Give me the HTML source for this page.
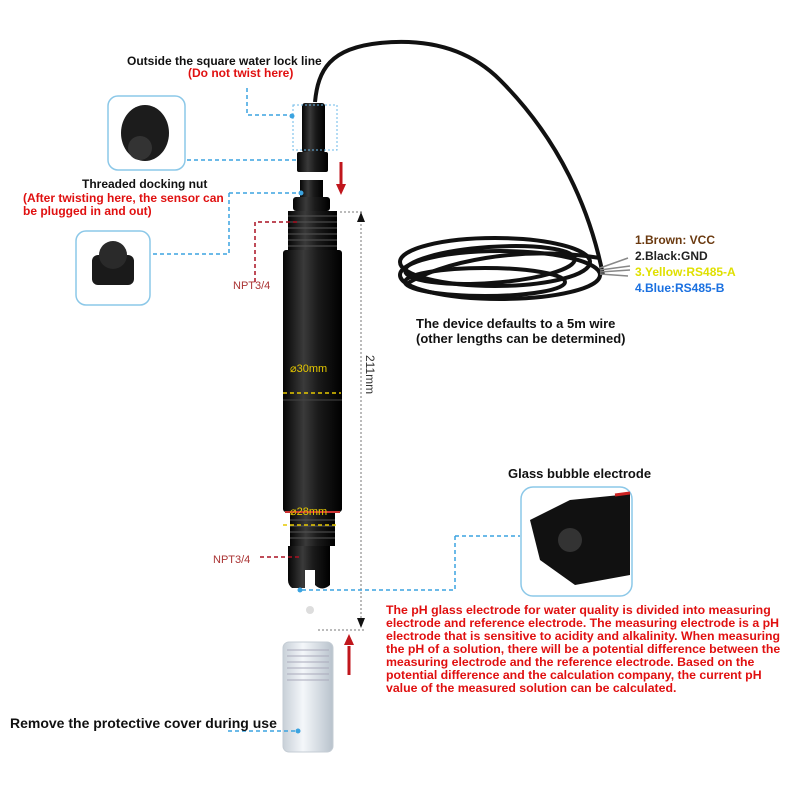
<!DOCTYPE html>
<html><head><meta charset="utf-8"><style>
body{margin:0;background:#fff}
svg{display:block;font-family:"Liberation Sans",sans-serif}
.b{font-weight:bold}
</style></head><body>
<svg width="800" height="800" viewBox="0 0 800 800">
<defs>
<linearGradient id="bd" x1="0" x2="1"><stop offset="0" stop-color="#050505"/><stop offset=".35" stop-color="#3a3a3a"/><stop offset=".6" stop-color="#1a1a1a"/><stop offset="1" stop-color="#000"/></linearGradient>
<linearGradient id="cv" x1="0" x2="1"><stop offset="0" stop-color="#c8d0d8"/><stop offset=".4" stop-color="#f4f7fa"/><stop offset="1" stop-color="#b8c2cc"/></linearGradient>
</defs>
<!-- cable -->
<g fill="none" stroke="#111" stroke-width="4">
<path d="M315 102 C318 70 330 48 380 43 C430 38 470 50 500 80 C560 140 590 210 603 275"/>
<ellipse cx="495" cy="262" rx="95" ry="24"/>
<ellipse cx="500" cy="275" rx="100" ry="24"/>
<ellipse cx="490" cy="265" rx="85" ry="18" transform="rotate(-4 490 265)"/>
<ellipse cx="485" cy="282" rx="80" ry="14"/>
<path d="M405 285 C440 262 520 245 600 258"/>
</g>
<path d="M600 268 L628 258 M600 270 L630 266 M600 272 L630 270 M600 274 L628 276" stroke="#888" stroke-width="1.5"/>
<!-- top connector -->
<rect x="302" y="103" width="23" height="50" rx="3" fill="url(#bd)"/>
<rect x="297" y="152" width="31" height="20" rx="2" fill="url(#bd)"/>
<rect x="293" y="105" width="44" height="45" fill="none" stroke="#6bb8e8" stroke-dasharray="2 2"/>
<!-- red arrows -->
<path d="M341 162 V186" stroke="#c0161c" stroke-width="3"/><path d="M336 184 L341 195 L346 184Z" fill="#c0161c"/>
<path d="M349 646 V675" stroke="#c0161c" stroke-width="3"/><path d="M344 645 L349 634 L354 645Z" fill="#c0161c"/>
<!-- sensor -->
<rect x="300" y="180" width="23" height="17" fill="url(#bd)"/>
<rect x="293" y="197" width="37" height="14" rx="3" fill="url(#bd)"/>
<rect x="288" y="211" width="49" height="40" fill="url(#bd)"/>
<g stroke="#555" stroke-width="1"><path d="M288 216H337M288 222H337M288 228H337M288 234H337M288 240H337M288 246H337"/></g>
<rect x="283" y="250" width="59" height="262" rx="3" fill="url(#bd)"/>
<path d="M283 400 H342" stroke="#444"/>
<path d="M285 512 H340" stroke="#c33" stroke-width="2"/>
<rect x="290" y="513" width="45" height="33" fill="url(#bd)"/>
<g stroke="#555"><path d="M290 520H335M290 526H335M290 532H335M290 538H335"/></g>
<path d="M288 546 H330 V585 Q322 592 315 585 V570 H305 V588 H292 Q288 585 288 580Z" fill="url(#bd)"/>
<circle cx="310" cy="610" r="4" fill="#ddd"/>
<!-- diameter marks -->
<text x="290" y="372" fill="#e6c800" font-size="11">⌀30mm</text>
<path d="M283 393 H341" stroke="#e6c800" stroke-dasharray="4 3" stroke-width="1.5"/>
<text x="290" y="515" fill="#e6c800" font-size="11">⌀28mm</text>
<path d="M283 525 H337" stroke="#e6c800" stroke-dasharray="4 3" stroke-width="1.5"/>
<!-- dimension -->
<path d="M340 212 H362 M361 212 V628 M318 630 H365" stroke="#777" stroke-dasharray="2 2" fill="none"/>
<path d="M357 222 L361 212 L365 222Z M357 618 L361 628 L365 618Z" fill="#111"/>
<text transform="translate(366 355) rotate(90)" font-size="12" fill="#333">211mm</text>
<!-- cover -->
<rect x="283" y="642" width="50" height="110" rx="6" fill="url(#cv)" stroke="#c4ccd4"/>
<g stroke="#aab" stroke-width="1"><path d="M287 650H329M287 656H329M287 662H329M287 668H329M287 674H329M287 680H329"/></g>
<!-- insets -->
<rect x="108" y="96" width="77" height="74" rx="10" fill="#fff" stroke="#8cc8e8" stroke-width="1.5"/>
<ellipse cx="145" cy="133" rx="24" ry="28" fill="#1c1c1c"/>
<circle cx="140" cy="148" r="12" fill="#333"/>
<rect x="76" y="231" width="74" height="74" rx="10" fill="#fff" stroke="#8cc8e8" stroke-width="1.5"/>
<rect x="92" y="255" width="42" height="30" rx="6" fill="#1a1a1a"/>
<circle cx="113" cy="255" r="14" fill="#2a2a2a"/>
<rect x="521" y="487" width="111" height="109" rx="12" fill="#fff" stroke="#8cc8e8" stroke-width="1.5"/>
<path d="M530 520 L570 500 L630 494 V575 L575 585 L540 560 Z" fill="#111"/>
<circle cx="570" cy="540" r="12" fill="#333"/>
<path d="M615 495 L630 493" stroke="#c22" stroke-width="3"/>
<!-- blue leader lines -->
<g fill="none" stroke="#3ba3e0" stroke-dasharray="4 3" stroke-width="1.5">
<path d="M247 88 V115 H292"/>
<path d="M187 160 H297"/>
<path d="M229 193 H303 M229 193 V254 H150"/>
<path d="M455 536 H520 M455 536 V590 H300"/>
<path d="M228 731 H297"/>
</g>
<g fill="none" stroke="#a12" stroke-dasharray="4 3" stroke-width="1.5">
<path d="M255 282 V222 H298"/>
<path d="M260 557 H300"/>
</g>
<g fill="#3ba3e0"><circle cx="292" cy="116" r="2.5"/><circle cx="301" cy="193" r="2.5"/><circle cx="300" cy="590" r="2.5"/><circle cx="298" cy="731" r="2.5"/></g>
<!-- texts -->
<text x="127" y="65" font-size="12" class="b" fill="#111">Outside the square water lock line</text>
<text x="188" y="77" font-size="12" class="b" fill="#e01010">(Do not twist here)</text>
<text x="82" y="188" font-size="12" class="b" fill="#111">Threaded docking nut</text>
<text x="23" y="202" font-size="12" class="b" fill="#e01010">(After twisting here, the sensor can</text>
<text x="23" y="215" font-size="12" class="b" fill="#e01010">be plugged in and out)</text>
<text x="233" y="289" font-size="11" fill="#a33">NPT3/4</text>
<text x="213" y="563" font-size="11" fill="#a33">NPT3/4</text>
<text x="635" y="244" font-size="12" class="b" fill="#6b3a10">1.Brown: VCC</text>
<text x="635" y="260" font-size="12" class="b" fill="#222">2.Black:GND</text>
<text x="635" y="276" font-size="12" class="b" fill="#e0e000">3.Yellow:RS485-A</text>
<text x="635" y="292" font-size="12" class="b" fill="#1a70e0">4.Blue:RS485-B</text>
<text x="416" y="328" font-size="13" class="b" fill="#111">The device defaults to a 5m wire</text>
<text x="416" y="343" font-size="13" class="b" fill="#111">(other lengths can be determined)</text>
<text x="508" y="478" font-size="13" class="b" fill="#111">Glass bubble electrode</text>
<g font-size="12.3" class="b" fill="#e01010">
<text x="386" y="614">The pH glass electrode for water quality is divided into measuring</text>
<text x="386" y="627">electrode and reference electrode. The measuring electrode is a pH</text>
<text x="386" y="640">electrode that is sensitive to acidity and alkalinity. When measuring</text>
<text x="386" y="653">the pH of a solution, there will be a potential difference between the</text>
<text x="386" y="666">measuring electrode and the reference electrode. Based on the</text>
<text x="386" y="679">potential difference and the calculation company, the current pH</text>
<text x="386" y="692">value of the measured solution can be calculated.</text>
</g>
<text x="10" y="728" font-size="14" class="b" fill="#111">Remove the protective cover during use</text>
</svg>
</body></html>
